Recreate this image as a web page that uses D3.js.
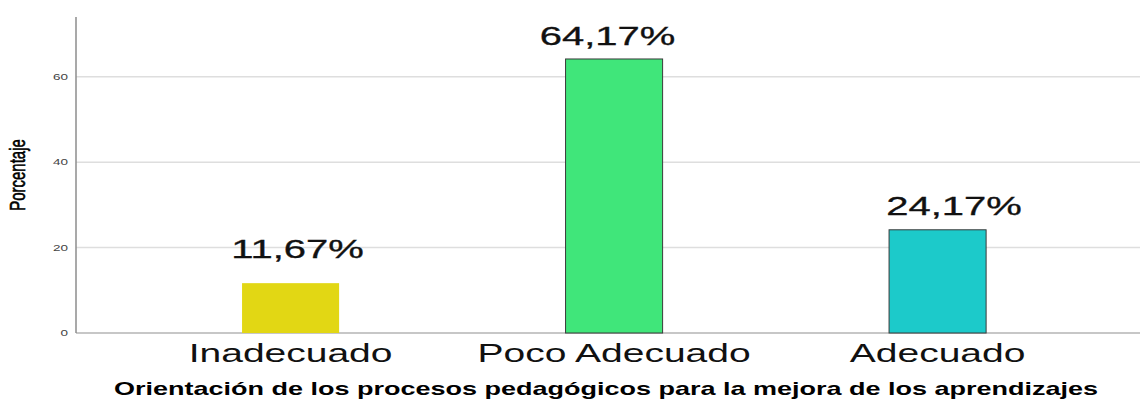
<!DOCTYPE html>
<html>
<head>
<meta charset="utf-8">
<script src="https://cdn.jsdelivr.net/npm/d3@7"></script>
<style>
  body { margin: 0; background: #fff; }
  svg { display: block; font-family: 'Liberation Sans', Arial, sans-serif; }
</style>
</head>
<body>
<div id="chart"></div>
<script>
// data
let categories = ['Inadecuado', 'Poco Adecuado', 'Adecuado'];
let percents = [11.67, 64.17, 24.17];
let valueLabels = ['11,67%', '64,17%', '24,17%'];
let yTicks = [0, 20, 40, 60];
let barColors = ['#e2d714', '#40e67a', '#1ccaca'];
let barStrokes = ['none', '#3a3a3a', '#3a3a3a'];
// manual nudges of the value labels (as in the original)
let labelDx = [7, -6.5, 16.5];
let labelLift = [25, 14, 15];

let W = 1140, H = 399;
let SX = 1.5; // original text is stretched horizontally

let margin = { top: 17, right: 0, bottom: 66, left: 76 };

let svg = d3.select('#chart')
  .append('svg')
  .attr('width', W)
  .attr('height', H);

let x = d3.scaleBand()
  .domain(categories)
  .range([margin.left, W - margin.right])
  .paddingInner(0.7)
  .paddingOuter(0.4945)
  .align(0.519);

let y = d3.scaleLinear()
  .domain([0, 74])
  .range([H - margin.bottom, margin.top]);

// stretched text helper
function sText(g, px, py, str, size, anchor, weight, color, sx) {
  return g.append('text')
    .attr('transform', 'translate(' + px + ',' + py + ') scale(' + (sx || SX) + ',1)')
    .attr('text-anchor', anchor)
    .attr('font-size', size + 'px')
    .attr('font-weight', weight || 'normal')
    .attr('fill', color || '#000')
    .text(str);
}

// gridlines
svg.append('g')
  .selectAll('line')
  .data(yTicks.filter(d => d > 0))
  .enter()
  .append('line')
  .attr('x1', margin.left)
  .attr('x2', W)
  .attr('y1', d => y(d))
  .attr('y2', d => y(d))
  .attr('stroke', '#dedede')
  .attr('stroke-width', 1.5);

// baseline
svg.append('line')
  .attr('x1', margin.left)
  .attr('x2', W)
  .attr('y1', y(0))
  .attr('y2', y(0))
  .attr('stroke', '#b4b4b4')
  .attr('stroke-width', 1.5);

// y axis line
svg.append('line')
  .attr('x1', margin.left)
  .attr('x2', margin.left)
  .attr('y1', y.range()[1])
  .attr('y2', y(0))
  .attr('stroke', '#8c8c8c')
  .attr('stroke-width', 1.5);

// y tick labels
let tickG = svg.append('g');
yTicks.forEach(function(t) {
  sText(tickG, margin.left - 8, y(t) + 3, String(t), 9, 'end', 'normal', '#444');
});

// y axis title
svg.append('text')
  .attr('transform', 'translate(25,' + (y(0) + y.range()[1]) / 2 + ') scale(' + SX + ',1) rotate(-90)')
  .attr('text-anchor', 'middle')
  .attr('font-size', '15px')
  .attr('fill', '#000')
  .attr('stroke', '#000')
  .attr('stroke-width', 0.4)
  .text('Porcentaje');

// bars
svg.append('g')
  .selectAll('rect')
  .data(percents)
  .enter()
  .append('rect')
  .attr('x', (d, i) => x(categories[i]))
  .attr('y', d => y(d))
  .attr('width', x.bandwidth())
  .attr('height', d => y(0) - y(d))
  .attr('fill', (d, i) => barColors[i])
  .attr('stroke', (d, i) => barStrokes[i])
  .attr('stroke-width', 1);

// value labels
let valG = svg.append('g');
percents.forEach(function(d, i) {
  let cx = x(categories[i]) + x.bandwidth() / 2 + labelDx[i];
  sText(valG, cx, y(d) - labelLift[i], valueLabels[i], 25, 'middle', 'normal', '#111', 1.6)
    .attr('stroke', '#111')
    .attr('stroke-width', 0.3);
});

// category labels
let catG = svg.append('g');
categories.forEach(function(c) {
  sText(catG, x(c) + x.bandwidth() / 2, 362, c, 26, 'middle', 'normal', '#111');
});

// x axis title
sText(svg, 606, 395, 'Orientación de los procesos pedagógicos para la mejora de los aprendizajes', 18, 'middle', 'bold', '#000');
</script>
</body>
</html>
